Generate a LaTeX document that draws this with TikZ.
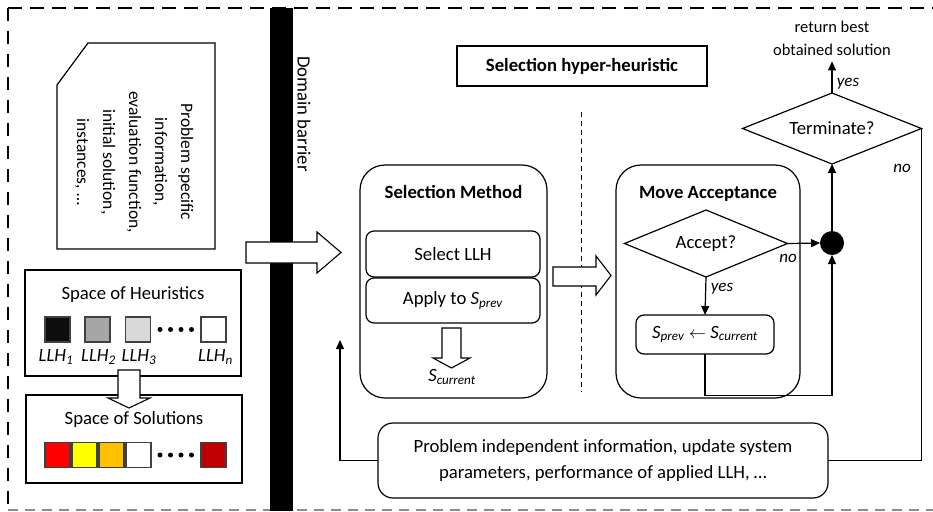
\documentclass[tikz,border=0pt]{standalone}
\usepackage{fontspec}
\setmainfont{Carlito}
\usetikzlibrary{shapes.geometric,arrows.meta}

\definecolor{sqedge}{HTML}{404040}
\definecolor{llhdark}{HTML}{0D0D0D}
\definecolor{llhmid}{HTML}{A6A6A6}
\definecolor{llhlight}{HTML}{D9D9D9}
\definecolor{solred}{HTML}{FF0000}
\definecolor{solyellow}{HTML}{FFFF00}
\definecolor{solorange}{HTML}{FFC000}
\definecolor{soldark}{HTML}{C00000}
\definecolor{framegray}{HTML}{8C8C8C}

\begin{document}
\begin{tikzpicture}[x=1pt,y=-1pt,
  font=\fontsize{18.7}{22}\selectfont,
  line width=1.2pt,
  box/.style 2 args={draw, minimum width=#1, minimum height=#2, inner sep=0pt, outer sep=0pt},
  rbox/.style={rounded corners=#1},
  sq/.style={draw=sqedge, line width=1.3pt, minimum width=25, minimum height=25, inner sep=0pt},
  decision/.style 2 args={draw, diamond, aspect=2.5, inner sep=0pt, outer sep=0pt, minimum width=#1, minimum height=#2},
  arr/.style={-{Triangle[length=9pt,width=8pt]}},
  hollow/.style={draw, fill=white, line width=1.1pt, line join=miter},
  lbl/.style={font=\fontsize{17}{20}\selectfont\itshape, inner sep=1pt},
  dot/.style={circle, fill=black, inner sep=0pt, minimum size=5}
]
\useasboundingbox (0,0) rectangle (933,511);

% outer dashed frame
\draw[dash pattern=on 14pt off 8pt, line width=1.8pt] (8,8) -- (933,8);
\draw[dash pattern=on 13pt off 10pt, line width=1.8pt] (8,8) -- (8,505);
\draw[framegray, dash pattern=on 10pt off 7pt, line width=1.4pt] (8,510) -- (933,510);

% domain barrier
\fill (270,8) rectangle (293,511);
\node[rotate=-90] (barrier) at (304,114) {Domain barrier};

% problem specific information card
\draw (88,43) -- (215,43) -- (215,249) -- (57,249) -- (57,85) -- cycle;
\node[rotate=-90, align=center, font=\fontsize{17.5}{26}\selectfont] (spec) at (134,162)
  {Problem specific\\information,\\evaluation function,\\initial solution,\\instances, …};

% space of heuristics
\node[box={216}{106}] (heur) at (133,323) {};
\node (heurt) at (133,295) {Space of Heuristics};
\node[sq, fill=llhdark] (h1) at (57.5,329.5) {};
\node[sq, fill=llhmid] (h2) at (97.5,329.5) {};
\node[sq, fill=llhlight] (h3) at (138,329.5) {};
\node[sq, fill=white] (hn) at (213.5,329.5) {};
\node[dot] (hd1) at (160,329.5) {};
\node[dot] (hd2) at (170.5,329.5) {};
\node[dot] (hd3) at (181,329.5) {};
\node[dot] (hd4) at (191.5,329.5) {};
\node[font=\fontsize{18.7}{22}\selectfont\itshape] (l1) at (56,357) {LLH\textsubscript{1}};
\node[font=\fontsize{18.7}{22}\selectfont\itshape] (l2) at (98.5,357) {LLH\textsubscript{2}};
\node[font=\fontsize{18.7}{22}\selectfont\itshape] (l3) at (139,357) {LLH\textsubscript{3}};
\node[font=\fontsize{18.7}{22}\selectfont\itshape] (ln) at (215.5,357) {LLH\textsubscript{n}};

% space of solutions
\node[box={216}{88}] (sol) at (134,439) {};
\node (solt) at (134,420) {Space of Solutions};
\node[sq, fill=solred] (s1) at (57.5,455) {};
\node[sq, fill=solyellow] (s2) at (84.5,455) {};
\node[sq, fill=solorange] (s3) at (111.5,455) {};
\node[sq, fill=white] (s4) at (138.5,455) {};
\node[sq, fill=soldark] (sn) at (213.5,455) {};
\node[dot] (sd1) at (160,455) {};
\node[dot] (sd2) at (170.5,455) {};
\node[dot] (sd3) at (181,455) {};
\node[dot] (sd4) at (191.5,455) {};

% heuristics -> solutions
\draw[hollow] (118,370) -- (140,370) -- (140,398) -- (150,398) -- (129,408) -- (108,398) -- (118,398) -- cycle;

% domain side -> hyper-heuristic
\draw[hollow] (246,242) -- (317,242) -- (317,232) -- (341,252.5) -- (317,273) -- (317,263) -- (246,263) -- cycle;

% title
\node[box={250}{40}, font=\fontsize{18.7}{22}\selectfont\bfseries] (shh) at (582,66) {Selection hyper-heuristic};

% separator
\draw[dash pattern=on 5pt off 4pt, line width=1pt] (581,112) -- (581,392);

% selection method
\node[box={187}{233}, rbox=25] (selm) at (453.5,281.5) {};
\node[font=\fontsize{18.7}{22}\selectfont\bfseries] (selmt) at (453.5,192) {Selection Method};
\node[box={174}{46}, rbox=8] (sllh) at (453,254) {Select LLH};
\node[box={174}{45}, rbox=8] (apply) at (453,300.5) {Apply to \textit{S}\textsubscript{\textit{prev}}};
\draw[hollow] (442,328) -- (461,328) -- (461,358) -- (470,358) -- (451.5,368) -- (433,358) -- (442,358) -- cycle;
\node (scur) at (452,377) {\textit{S}\textsubscript{\textit{current}}};

% selection -> acceptance
\draw[hollow] (553,267) -- (596,267) -- (596,256) -- (611,275.5) -- (596,295) -- (596,286) -- (553,286) -- cycle;

% move acceptance
\node[box={184}{233}, rbox=25] (mova) at (708,281.5) {};
\node[font=\fontsize{18.7}{22}\selectfont\bfseries] (movat) at (708,194) {Move Acceptance};
\node[decision={163}{67}] (acc) at (706,243.5) {Accept?};
\node[box={138}{39}, rbox=8] (spc) at (705,334.5)
  {\textit{S}\textsubscript{\textit{prev}} $\leftarrow$ \textit{S}\textsubscript{\textit{current}}};
\node[circle, fill=black, minimum size=24, inner sep=0pt, outer sep=0pt] (jn) at (832,243) {};
\node[decision={179}{71}] (term) at (832,128.5) {Terminate?};
\node[align=center, font=\fontsize{16.5}{23}\selectfont, inner xsep=2pt, inner ysep=5pt] (ret) at (832,38.5)
  {return best\\obtained solution};

\node[lbl] (accno) at (788,258) {no};
\node[lbl] (accyes) at (722,289) {yes};
\node[lbl] (termyes) at (848,84) {yes};
\node[lbl] (termno) at (902,168) {no};

% problem independent information
\node[box={450}{75}, rbox=15, align=center, font=\fontsize{18.7}{26}\selectfont] (info) at (603,460.5)
  {Problem independent information, update system\\parameters, performance of applied LLH, …};
\coordinate (feedback) at (340,340);

% flow
\draw[arr] (acc.east) -- (jn.west);
\draw[arr] (acc.south) -- (spc.north);
\draw[arr] (spc.south) -- ++(0,41.5) -| (jn.south);
\draw[arr] (jn.north) -- (term.south);
\draw[arr] (term.north) -- (ret.south);
\draw (term.east) |- (info.east);
\draw[arr] (info.west) -| (feedback);
\end{tikzpicture}
\end{document}
